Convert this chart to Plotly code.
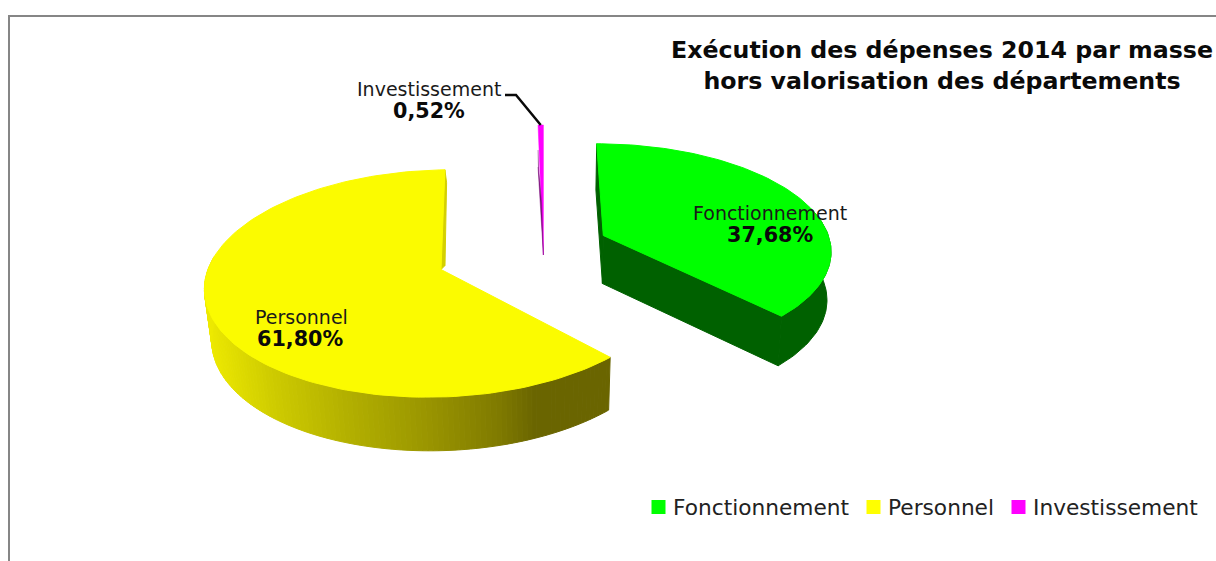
import numpy as np
import plotly.graph_objects as go

categories = ["Fonctionnement", "Personnel", "Investissement"]
values = [37.68, 61.80, 0.52]
value_labels = ["37,68%", "61,80%", "0,52%"]
legend_colors = ["#00ff00", "#ffff00", "#ff00ff"]
top_colors = ["#00ff00", "#fbfb00", "#ff00ff"]
title_text = "Exécution des dépenses 2014 par masse<br>hors valorisation des départements"

# pseudo-3D camera parameters of the exploded pie (pixel space)
centers = [(603.3, 235.5), (441.0, 269.5), (543.4, 255.0)]
radii = [(225.0, 103.0), (233.0, 112.0), (184.0, 146.0)]
shears = [-7.4, 12.0, 0.0]
K = 0.123
DEPTH = [48.0, 51.0, 0.0]
VANISH_X = 540.0
VANISH_F = [0.014, 0.022, 0.0]

def project(i, theta):
    cx, cy = centers[i]
    rx, ry = radii[i]
    X, Y = np.sin(theta), np.cos(theta)
    w = 1 + K * Y
    return cx + (rx * X + shears[i] * Y) / w, cy - ry * Y / w

def drop(i, x, y):
    near = DEPTH[i] * (1 + 0.04 * (y - centers[i][1]) / 100)
    return x + (VANISH_X - x) * VANISH_F[i], y + near

def poly(fig, xs, ys, color, lw=1):
    fig.add_trace(go.Scatter(x=list(xs), y=list(ys), mode="lines", fill="toself",
                             fillcolor=color, line=dict(color=color, width=lw),
                             hoverinfo="skip", showlegend=False))

fig = go.Figure()

edges = np.cumsum([0] + values) / sum(values) * 2 * np.pi
grad_x = [205, 270, 340, 420, 500, 535]
grad_r = [238, 207, 181, 156, 127, 106]
grad_g = [234, 204, 178, 152, 122, 101]

# Personnel: gradient rim
i = 1
left_end = np.deg2rad(277)
th = np.linspace(edges[1], left_end, 121)
px, py = project(i, th)
bx, by = drop(i, px, py)
for j in range(len(th) - 1):
    mid = (px[j] + px[j + 1]) / 2
    c = f"rgb({int(np.interp(mid, grad_x, grad_r))},{int(np.interp(mid, grad_x, grad_g))},0)"
    poly(fig, [px[j], px[j + 1], bx[j + 1], bx[j], px[j]],
         [py[j], py[j + 1], by[j + 1], by[j], py[j]], c)
# Personnel: top surface
th = np.linspace(edges[1], edges[2], 140)
px, py = project(i, th)
tx, ty = px[-1], py[-1]
ax, ay = centers[i]
poly(fig, [tx, tx + 1.7, ax + 4, ax, tx], [ty, ty + 13, ay - 4, ay, ty], "#d4d000")
poly(fig, [ax, *px, ax], [ay, *py, ay], top_colors[i])

# Fonctionnement: dark faces, then top
i = 0
dark = "#006100"
th = np.linspace(edges[0], edges[1], 100)
px, py = project(i, th)
bx, by = drop(i, px, py)
ax, ay = centers[i]
bax, bay = drop(i, ax, ay)
poly(fig, [px[0], bx[0], bax, ax, px[0]], [py[0], by[0], bay, ay, py[0]], dark)
poly(fig, [ax, px[-1], bx[-1], bax, ax], [ay, py[-1], by[-1], bay, ay], dark)
vis = th > np.deg2rad(75)
poly(fig, [*px[vis], *bx[vis][::-1]], [*py[vis], *by[vis][::-1]], dark)
poly(fig, [ax, *px, ax], [ay, *py, ay], top_colors[i])

# Investissement: thin sliver and its dark side
i = 2
th = np.linspace(edges[2] - 2 * np.pi, edges[3] - 2 * np.pi, 6)
px, py = project(i, th)
ax, ay = centers[i]
poly(fig, [ax, *px, ax], [ay, *py, ay], top_colors[i], lw=0.5)
fx = np.array([px[0], px[0] + 0.4, ax - 1.8, ax, px[0] + 0.0])
fy = np.array([py[0] + 25, py[0] + 42, ay - 52, ay, py[0] + 42])
poly(fig, fx, fy, "#7d0a7d", lw=0.5)

# leader line of the small slice, anchored on the slice tip
lx, ly = project(2, (edges[2] - 2 * np.pi + edges[3] - 2 * np.pi) / 2)
fig.add_trace(go.Scatter(x=[505, 516, lx], y=[95, 95, ly], mode="lines",
                         line=dict(color="#0a0a0a", width=2.5), hoverinfo="skip", showlegend=False))

anno_font = "DejaVu Sans"
label_pos = [(770, 213), (301, 317), (428.5, 89)]
pct_pos = [(769.5, 235), (300, 339), (429, 111)]
annotations = []
for name, lab, (x1, y1), (x2, y2) in zip(categories, value_labels, label_pos, pct_pos):
    annotations.append(dict(x=x1, y=y1, text=name, showarrow=False, xanchor="center", yanchor="middle",
                            font=dict(family=anno_font, size=19, color="#1a1a1a")))
    annotations.append(dict(x=x2, y=y2, text=f"<b>{lab}</b>", showarrow=False, xanchor="center", yanchor="middle",
                            font=dict(family=anno_font, size=20.7, color="#0a0a0a")))

# legend row: a square and a label per category
legend_square_x = [658.5, 873.5, 1018.5]
legend_text_x = [674, 889, 1034]
legend_y = 507
fig.add_trace(go.Scatter(x=legend_square_x, y=[legend_y] * 3, mode="markers",
                         marker=dict(symbol="square", size=14, color=legend_colors, line=dict(width=0)),
                         hoverinfo="skip", showlegend=False))
for name, x in zip(categories, legend_text_x):
    annotations.append(dict(x=x, y=legend_y, text=name, showarrow=False, xanchor="left", yanchor="middle",
                            xshift=-3, font=dict(family=anno_font, size=21.7, color="#222222")))

frame = "#868686"
fig.update_layout(
    width=1216, height=561, autosize=False,
    margin=dict(l=0, r=0, t=0, b=0),
    paper_bgcolor="white", plot_bgcolor="white",
    xaxis=dict(range=[0, 1216], visible=False, fixedrange=True),
    yaxis=dict(range=[561, 0], visible=False, fixedrange=True),
    title=dict(text=f"<b>{title_text}</b>", x=942 / 1216, xanchor="center", xref="paper",
               y=1 - 58 / 561, yanchor="middle", yref="container",
               font=dict(family=anno_font, size=23.7, color="#0a0a0a")),
    showlegend=False,
    annotations=annotations,
    shapes=[dict(type="line", x0=9, x1=9, y0=16, y1=561, line=dict(color=frame, width=2)),
            dict(type="line", x0=8, x1=1216, y0=16, y1=16, line=dict(color=frame, width=2))],
)
fig.write_html("out.html", config={"displayModeBar": False},
               post_script="document.body.style.margin='0';document.body.style.overflow='hidden';")
